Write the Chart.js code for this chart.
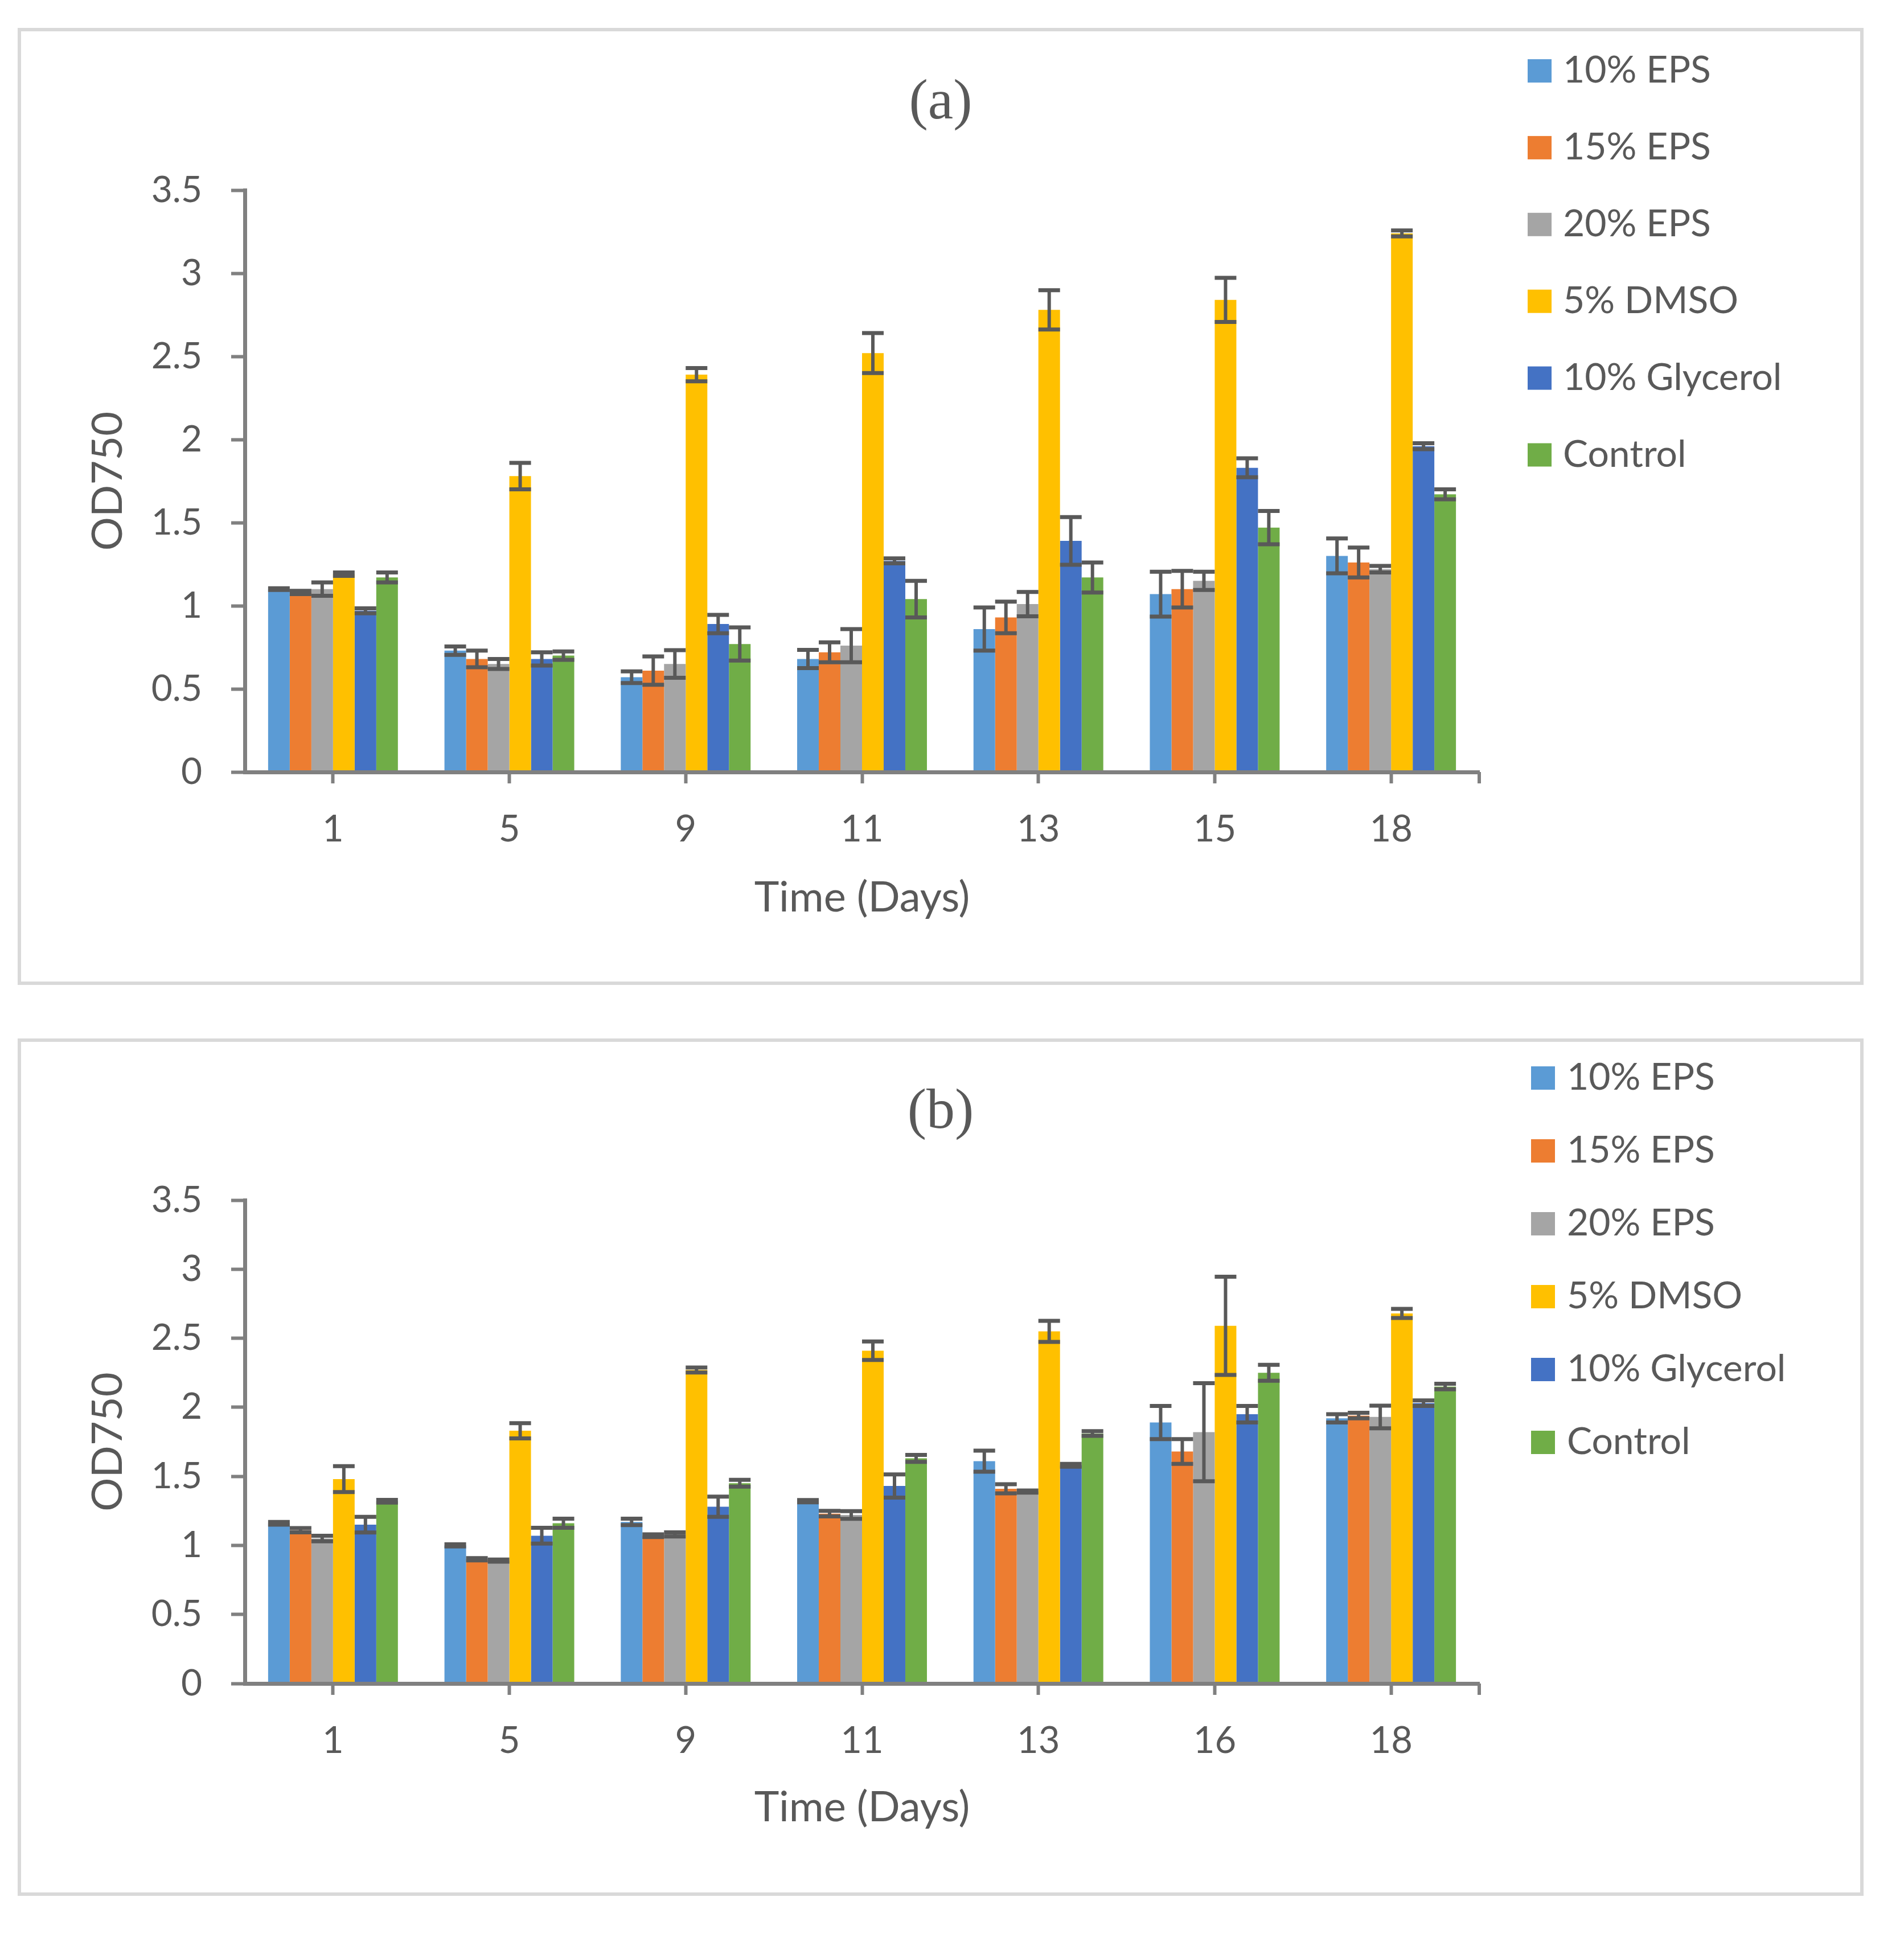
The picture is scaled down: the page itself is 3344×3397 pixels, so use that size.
<!DOCTYPE html>
<html>
<head>
<meta charset="utf-8">
<script src="https://cdn.jsdelivr.net/npm/chart.js@4.4.1/dist/chart.umd.min.js"></script>
<style>
  body { margin: 0; background: #fff; width: 3344px; height: 3397px; position: relative; overflow: hidden; }
  .panel { position: absolute; left: 31px; width: 3242px; border: 6px solid #d9d9d9; box-sizing: border-box; background: #fff; }
  #pa { top: 49px; height: 1681px; }
  #pb { top: 1824px; height: 1506px; }
  canvas { display: block; }
</style>
</head>
<body>
<div class="panel" id="pa"><canvas id="chartA" width="3230" height="1669" style="width:3230px;height:1669px"></canvas></div>
<div class="panel" id="pb"><canvas id="chartB" width="3230" height="1494" style="width:3230px;height:1494px"></canvas></div>
<script>
const SERIES = ['10% EPS', '15% EPS', '20% EPS', '5% DMSO', '10% Glycerol', 'Control'];
const COLORS = ['#5B9BD5', '#ED7D31', '#A5A5A5', '#FFC000', '#4472C4', '#70AD47'];
const Y_TICKS = [0, 0.5, 1, 1.5, 2, 2.5, 3, 3.5];

// (a)
const daysA   = ['1', '5', '9', '11', '13', '15', '18'];
const eps10A  = [1.10, 0.73, 0.57, 0.68, 0.86, 1.07, 1.30];
const eps15A  = [1.08, 0.68, 0.61, 0.72, 0.93, 1.10, 1.26];
const eps20A  = [1.10, 0.65, 0.65, 0.76, 1.01, 1.15, 1.22];
const dmsoA   = [1.19, 1.78, 2.39, 2.52, 2.78, 2.84, 3.24];
const glyA    = [0.97, 0.68, 0.89, 1.27, 1.39, 1.83, 1.96];
const ctrlA   = [1.17, 0.70, 0.77, 1.04, 1.17, 1.47, 1.67];
const eps10ErrA = [0.005, 0.025, 0.035, 0.055, 0.13, 0.135, 0.105];
const eps15ErrA = [0.01, 0.05, 0.085, 0.06, 0.095, 0.11, 0.09];
const eps20ErrA = [0.04, 0.03, 0.083, 0.10, 0.073, 0.055, 0.02];
const dmsoErrA  = [0.01, 0.08, 0.04, 0.12, 0.118, 0.133, 0.018];
const glyErrA   = [0.015, 0.04, 0.055, 0.015, 0.143, 0.057, 0.018];
const ctrlErrA  = [0.03, 0.025, 0.10, 0.11, 0.09, 0.10, 0.03];

// (b)
const daysB   = ['1', '5', '9', '11', '13', '16', '18'];
const eps10B  = [1.16, 1.00, 1.17, 1.32, 1.61, 1.89, 1.92];
const eps15B  = [1.11, 0.90, 1.07, 1.23, 1.41, 1.68, 1.94];
const eps20B  = [1.05, 0.89, 1.08, 1.22, 1.39, 1.82, 1.93];
const dmsoB   = [1.48, 1.83, 2.27, 2.41, 2.55, 2.59, 2.68];
const glyB    = [1.15, 1.07, 1.28, 1.43, 1.58, 1.95, 2.03];
const ctrlB   = [1.32, 1.16, 1.45, 1.63, 1.81, 2.25, 2.15];
const eps10ErrB = [0.01, 0.008, 0.023, 0.008, 0.076, 0.12, 0.03];
const eps15ErrB = [0.015, 0.008, 0.01, 0.02, 0.033, 0.09, 0.02];
const eps20ErrB = [0.02, 0.008, 0.015, 0.028, 0.008, 0.355, 0.082];
const dmsoErrB  = [0.094, 0.055, 0.018, 0.067, 0.076, 0.356, 0.033];
const glyErrB   = [0.057, 0.057, 0.073, 0.084, 0.01, 0.06, 0.02];
const ctrlErrB  = [0.01, 0.033, 0.025, 0.025, 0.017, 0.058, 0.02];

const TEXT = '#595959';
const AXIS = '#808080';
Chart.defaults.font.family = 'Lato';
Chart.defaults.color = TEXT;

// error bars, end tick and side legend
const extras = {
    id: 'extras',
    afterDatasetsDraw(chart) {
        const { ctx } = chart;
        const y = chart.scales.y;
        ctx.save();
        ctx.strokeStyle = '#595959';
        chart.data.datasets.forEach((ds, i) => {
            chart.getDatasetMeta(i).data.forEach((bar, j) => {
                const v = ds.data[j], e = ds.errs[j];
                const hi = y.getPixelForValue(v + e), lo = y.getPixelForValue(v - e);
                const half = bar.width / 2;
                ctx.lineWidth = 6;
                ctx.beginPath(); ctx.moveTo(bar.x, hi); ctx.lineTo(bar.x, lo); ctx.stroke();
                ctx.lineWidth = 7;
                ctx.beginPath();
                ctx.moveTo(bar.x - half, hi); ctx.lineTo(bar.x + half, hi);
                ctx.moveTo(bar.x - half, lo); ctx.lineTo(bar.x + half, lo);
                ctx.stroke();
            });
        });
        ctx.restore();
    },
    afterDraw(chart, args, opts) {
        const { ctx, chartArea } = chart;
        ctx.save();
        ctx.strokeStyle = AXIS;
        ctx.lineWidth = 6;
        ctx.beginPath();
        ctx.moveTo(chartArea.right, chartArea.bottom);
        ctx.lineTo(chartArea.right, chartArea.bottom + 20);
        ctx.stroke();
        ctx.font = '66px Lato';
        ctx.textBaseline = 'middle';
        chart.data.datasets.forEach((ds, i) => {
            const cy = opts.y0 + i * opts.step;
            ctx.fillStyle = ds.backgroundColor;
            ctx.fillRect(opts.boxX, cy - 20, 42, 41);
            ctx.fillStyle = TEXT;
            ctx.fillText(ds.label, opts.textX, cy);
        });
        ctx.restore();
    }
};

function makeChart(id, labels, values, errs, cfg) {
    const datasets = SERIES.map((name, i) => ({
        label: name,
        data: values[i],
        errs: errs[i],
        backgroundColor: COLORS[i],
        borderWidth: 0,
        barPercentage: 1,
        categoryPercentage: 0.736
    }));
    return new Chart(document.getElementById(id), {
        type: 'bar',
        data: { labels, datasets },
        plugins: [extras],
        options: {
            responsive: false,
            maintainAspectRatio: false,
            devicePixelRatio: 1,
            animation: false,
            layout: { padding: 0 },
            plugins: {
                legend: { display: false },
                tooltip: { enabled: false },
                title: {
                    display: true,
                    text: cfg.title,
                    color: TEXT,
                    font: { family: 'Liberation Serif', size: 100, weight: 'normal' },
                    padding: cfg.titlePad
                },
                extras: cfg.legend
            },
            scales: {
                x: {
                    offset: true,
                    grid: { display: true, offset: false, drawOnChartArea: false, drawTicks: true, tickLength: 20, tickWidth: 6, tickColor: AXIS },
                    border: { display: true, color: AXIS, width: 7, z: 1 },
                    ticks: { font: { size: 65 }, color: TEXT, padding: 42, maxRotation: 0 },
                    title: { display: true, text: 'Time (Days)', color: TEXT, font: { size: 74 }, padding: { top: 0, bottom: cfg.xTitlePad } },
                    afterFit: s => { s.height = cfg.xHeight; }
                },
                y: {
                    min: 0, max: 3.5,
                    afterBuildTicks: s => { s.ticks = Y_TICKS.map(v => ({ value: v })); },
                    grid: { display: true, drawOnChartArea: false, drawTicks: true, tickLength: 24, tickWidth: 6, tickColor: AXIS },
                    border: { display: true, color: AXIS, width: 7, z: 1 },
                    ticks: { font: { size: 64 }, color: TEXT, padding: 51, callback: v => String(v) },
                    title: { display: true, text: 'OD750', color: TEXT, font: { size: 74 }, padding: { top: 109, bottom: 0 } },
                    afterFit: s => { s.width = 393; }
                },
                // empty space on the right that holds the legend
                side: {
                    type: 'linear',
                    position: 'right',
                    display: true,
                    grid: { display: false },
                    border: { display: false },
                    ticks: { display: false },
                    afterFit: s => { s.width = 669; }
                }
            }
        }
    });
}

makeChart('chartA', daysA,
    [eps10A, eps15A, eps20A, dmsoA, glyA, ctrlA],
    [eps10ErrA, eps15ErrA, eps20ErrA, dmsoErrA, glyErrA, ctrlErrA],
    { title: '(a)', titlePad: { top: 67, bottom: 92 }, xHeight: 368, xTitlePad: 102,
      legend: { boxX: 2646, textX: 2708, y0: 69, step: 134.9 } });

makeChart('chartB', daysB,
    [eps10B, eps15B, eps20B, dmsoB, glyB, ctrlB],
    [eps10ErrB, eps15ErrB, eps20ErrB, dmsoErrB, glyErrB, ctrlErrB],
    { title: '(b)', titlePad: { top: 65, bottom: 93 }, xHeight: 367, xTitlePad: 104,
      legend: { boxX: 2652, textX: 2715, y0: 63, step: 128 } });
</script>
</body>
</html>
